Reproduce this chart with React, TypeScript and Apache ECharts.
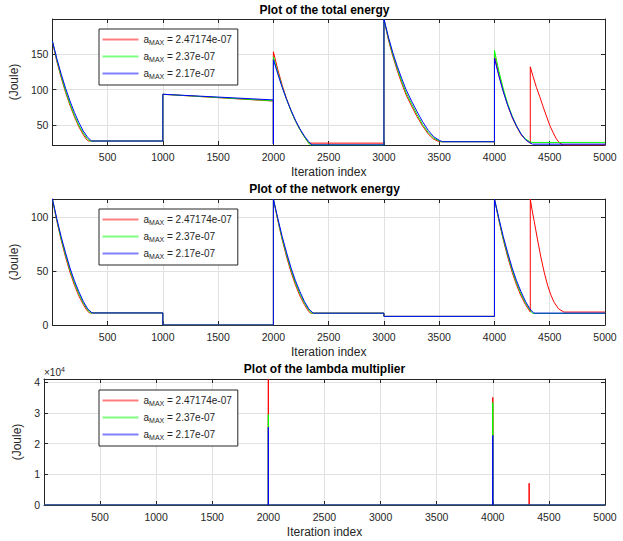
import React, { useEffect, useRef } from 'react';
import * as echarts from 'echarts';

const FONT = '"Liberation Sans", Arial, Helvetica, sans-serif';
const AXIS = '#262626';
const GRIDC = '#e2e2e2';

const titles = ['Plot of the total energy', 'Plot of the network energy', 'Plot of the lambda multiplier'];
const aMaxValues = ['2.47174e-07', '2.37e-07', '2.17e-07'];
const seriesColors = ['#ff0000', '#00ff00', '#0000ff'];
const xLabel = 'Iteration index';
const yLabel = '(Joule)';
const xTicks = [500, 1000, 1500, 2000, 2500, 3000, 3500, 4000, 4500, 5000];
const yTicksTotal = [50, 100, 150];
const yTicksNetwork = [0, 50, 100];
const yTicksLambda = [0, 10000, 20000, 30000, 40000];

type P = [number, number];

// Plot 1: total energy
const totalRed: P[] = [
  [1, 168], [40, 140], [80, 117], [120, 96], [160, 78], [200, 62], [240, 48], [280, 37], [310, 30], [328, 28],
  [1000, 28], [1000, 93.5], [2000, 84], [2000, 24], [2000, 153], [2040, 128], [2080, 106], [2120, 87], [2160, 70],
  [2200, 56], [2240, 44], [2280, 34], [2305, 28], [2320, 25], [3000, 25], [3000, 199], [3040, 170], [3080, 147],
  [3120, 127], [3160, 109], [3200, 93], [3250, 77], [3300, 62], [3350, 49], [3400, 38], [3450, 30.5], [3500, 27],
  [4000, 27], [4000, 148], [4040, 121], [4080, 98], [4120, 78], [4160, 61], [4200, 48], [4240, 37], [4280, 30],
  [4324, 25], [4324, 132], [4350, 118], [4380, 103], [4410, 90], [4440, 76], [4470, 63], [4500, 50], [4530, 40],
  [4560, 31], [4590, 25], [4620, 22.4], [5000, 22.4],
];
const totalGreen: P[] = [
  [1, 168], [40, 142], [80, 119], [120, 98], [160, 80], [200, 64], [240, 50], [280, 39], [320, 30.5], [340, 28],
  [1000, 28], [1000, 93.5], [2000, 84.4], [2000, 24], [2000, 146], [2040, 124], [2080, 104], [2120, 86], [2160, 70],
  [2200, 56], [2240, 44], [2280, 34], [2310, 27], [2335, 22.5], [3000, 22.5], [3000, 199], [3040, 172], [3080, 149],
  [3120, 130], [3160, 112], [3200, 96], [3250, 80], [3300, 65], [3350, 51], [3400, 40], [3450, 32], [3515, 27],
  [4000, 27], [4000, 155], [4040, 126], [4080, 101], [4120, 80], [4160, 63], [4200, 49], [4240, 38], [4280, 31],
  [4320, 27], [4340, 26], [5000, 26],
];
const totalBlue: P[] = [
  [1, 168], [40, 144], [80, 122], [120, 102], [160, 84], [200, 68], [240, 54], [280, 42], [320, 33], [355, 28],
  [1000, 28], [1000, 93.5], [2000, 85.6], [2000, 24], [2000, 142], [2040, 122], [2080, 103], [2120, 86], [2160, 71],
  [2200, 57], [2240, 45], [2280, 35], [2320, 27], [2350, 22.5], [3000, 22.5], [3000, 199], [3040, 174], [3080, 152],
  [3120, 133], [3160, 116], [3200, 100], [3250, 84], [3300, 69], [3350, 55], [3400, 43], [3450, 34], [3500, 29],
  [3530, 27], [4000, 27], [4000, 144], [4040, 119], [4080, 97], [4120, 78], [4160, 62], [4200, 49], [4240, 38],
  [4280, 30], [4320, 25.5], [4345, 23.6], [5000, 23.6],
];

// Plot 2: network energy
const networkRed: P[] = [
  [1, 117], [40, 97], [80, 79], [120, 63], [160, 49], [200, 37], [240, 27], [280, 19], [310, 14], [335, 11.2],
  [1000, 11.2], [1000, 0], [2000, 0], [2000, 117], [2040, 97], [2080, 79], [2120, 63], [2160, 49], [2200, 37],
  [2240, 27], [2280, 19], [2310, 14], [2335, 11], [3000, 11], [3000, 8], [4000, 8], [4000, 117], [4040, 97],
  [4080, 79], [4120, 63], [4160, 49], [4200, 37], [4240, 27], [4280, 19], [4324, 12], [4324, 117], [4340, 107],
  [4360, 96], [4390, 79], [4420, 63], [4450, 49], [4480, 37], [4510, 28], [4540, 21], [4580, 15], [4628, 12],
  [5000, 12],
];
const networkGreen: P[] = [
  [1, 117], [40, 98], [80, 80], [120, 65], [160, 51], [200, 39], [240, 29], [280, 20.5], [320, 14], [345, 11.2],
  [1000, 11.2], [1000, 0], [2000, 0], [2000, 117], [2040, 98], [2080, 80], [2120, 65], [2160, 51], [2200, 39],
  [2240, 29], [2280, 20.5], [2320, 14], [2345, 11], [3000, 11], [3000, 8], [4000, 8], [4000, 117], [4040, 98],
  [4080, 80], [4120, 65], [4160, 51], [4200, 39], [4240, 29], [4280, 20.5], [4320, 14], [4345, 10.8], [5000, 10.8],
];
const networkBlue: P[] = [
  [1, 117], [40, 99], [80, 82], [120, 67], [160, 53], [200, 41], [240, 31], [280, 22], [320, 15], [360, 11.2],
  [1000, 11.2], [1000, 0], [2000, 0], [2000, 117], [2040, 99], [2080, 82], [2120, 67], [2160, 53], [2200, 41],
  [2240, 31], [2280, 22], [2320, 15], [2360, 11], [3000, 11], [3000, 8], [4000, 8], [4000, 117], [4040, 99],
  [4080, 82], [4120, 67], [4160, 53], [4200, 41], [4240, 31], [4280, 22], [4320, 15], [4355, 11], [5000, 11],
];

// Plot 3: lambda multiplier
const lambdaRed: P[] = [
  [1, 0], [2000, 0], [2000, 41100], [2000, 0], [4000, 0], [4000, 35100], [4000, 0], [4324, 0], [4324, 7100],
  [4324, 0], [5000, 0],
];
const lambdaGreen: P[] = [
  [1, 0], [2000, 0], [2000, 29500], [2000, 0], [4000, 0], [4000, 33400], [4000, 0], [5000, 0],
];
const lambdaBlue: P[] = [
  [1, 0], [2000, 0], [2000, 25400], [2000, 0], [4000, 0], [4000, 22700], [4000, 0], [5000, 0],
];

const panelData: P[][][] = [
  [totalRed, totalGreen, totalBlue],
  [networkRed, networkGreen, networkBlue],
  [lambdaRed, lambdaGreen, lambdaBlue],
];
const yTicks = [yTicksTotal, yTicksNetwork, yTicksLambda];
const yMin = [22.4, 0, 0];
const yMax = [199, 117, 41100];

const gridTops = [19, 199, 379];
const gridHeight = 126;
const gridLeft = 44;
const gridWidth = 561;
const titleTops = [3.5, 182.5, 362.5];
const legendTops = [29, 209, 390];
const yNameGaps = [26, 26, 13];

export default function App() {
  const ref = useRef<HTMLDivElement>(null);
  useEffect(() => {
    document.body.style.margin = '0';
    if (!ref.current) return;
    const chart = echarts.init(ref.current, null, { renderer: 'svg' });
    const names = aMaxValues.map((v) => `a_MAX = ${v}`);
    const grid: any[] = [];
    const xAxis: any[] = [];
    const yAxis: any[] = [];
    const series: any[] = [];
    const title: any[] = [];
    const legend: any[] = [];
    const tickStyle = { color: AXIS, width: 1 };
    for (let i = 0; i < 3; i++) {
      grid.push({ left: gridLeft, top: gridTops[i], width: gridWidth, height: gridHeight, containLabel: false });
      title.push({
        text: titles[i], left: gridLeft + gridWidth / 2, top: titleTops[i], textAlign: 'center', padding: 0,
        textStyle: { fontFamily: FONT, fontSize: 12, fontWeight: 'bold', color: '#000' },
      });
      xAxis.push({
        type: 'value', gridIndex: i, min: 1, max: 5000, position: 'bottom',
        axisLine: { show: true, onZero: false, lineStyle: tickStyle },
        axisTick: { show: true, inside: true, length: 4, customValues: xTicks, lineStyle: tickStyle },
        axisLabel: {
          show: true, customValues: xTicks, color: AXIS, fontSize: 10.5, fontFamily: FONT, margin: 6,
          formatter: (v: number) => String(v),
        },
        splitLine: { show: true, lineStyle: { color: GRIDC, width: 1 } },
        name: xLabel, nameLocation: 'middle', nameGap: 21,
        nameTextStyle: { fontFamily: FONT, fontSize: 12, color: AXIS },
      });
      xAxis.push({
        type: 'value', gridIndex: i, min: 1, max: 5000, position: 'top',
        axisLine: { show: true, onZero: false, lineStyle: tickStyle },
        axisTick: { show: true, inside: true, length: 4, customValues: xTicks, lineStyle: tickStyle },
        axisLabel: { show: false }, splitLine: { show: false },
      });
      yAxis.push({
        type: 'value', gridIndex: i, min: yMin[i], max: yMax[i], position: 'left',
        axisLine: { show: true, onZero: false, lineStyle: tickStyle },
        axisTick: { show: true, inside: true, length: 4, customValues: yTicks[i], lineStyle: tickStyle },
        axisLabel: {
          show: true, customValues: yTicks[i], color: AXIS, fontSize: 10.5, fontFamily: FONT, margin: 4,
          formatter: i === 2 ? (v: number) => String(v / 10000) : (v: number) => String(v),
        },
        splitLine: { show: true, lineStyle: { color: GRIDC, width: 1 } },
        name: yLabel, nameLocation: 'middle', nameGap: yNameGaps[i], nameRotate: 90,
        nameTextStyle: { fontFamily: FONT, fontSize: 12, color: AXIS },
      });
      yAxis.push({
        type: 'value', gridIndex: i, min: yMin[i], max: yMax[i], position: 'right',
        axisLine: { show: true, onZero: false, lineStyle: tickStyle },
        axisTick: { show: true, inside: true, length: 4, customValues: yTicks[i], lineStyle: tickStyle },
        axisLabel: { show: false }, splitLine: { show: false },
      });
      for (let s = 0; s < 3; s++) {
        series.push({
          type: 'line', name: names[s], xAxisIndex: 2 * i, yAxisIndex: 2 * i,
          data: panelData[i][s], showSymbol: false, symbol: 'none',
          lineStyle: { color: seriesColors[s], width: 1 }, itemStyle: { color: seriesColors[s] },
          emphasis: { disabled: true }, silent: true,
        });
      }
      legend.push({
        orient: 'vertical', left: 99, top: legendTops[i], itemWidth: 36, itemHeight: 12, itemGap: 5.5,
        padding: [5.5, 6, 5, 3.5], borderColor: AXIS, borderWidth: 1, backgroundColor: '#ffffff',
        icon: 'path://M0 0H36V2H0Z', selectedMode: false, data: names,
        formatter: (name: string) => `{a|a}{s|MAX}{a| = ${name.split('= ')[1]}}`,
        itemStyle: { opacity: 0.5 },
        textStyle: {
          fontFamily: FONT, fontSize: 10, color: AXIS,
          rich: {
            a: { fontFamily: FONT, fontSize: 10, color: AXIS },
            s: { fontFamily: FONT, fontSize: 7, color: AXIS, padding: [6, 0, 0, 0] },
          },
        },
      });
    }
    chart.setOption({
      animation: false,
      backgroundColor: '#ffffff',
      title, grid, xAxis, yAxis, series, legend,
      graphic: [
        {
          type: 'text', left: 44, top: 366,
          style: {
            text: '{a|×10}{b|4}',
            rich: {
              a: { fontFamily: FONT, fontSize: 10, fill: AXIS, color: AXIS },
              b: { fontFamily: FONT, fontSize: 7, fill: AXIS, color: AXIS, padding: [0, 0, 6, 0] },
            },
          },
        },
      ],
    });
    return () => chart.dispose();
  }, []);
  return <div ref={ref} style={{ width: 623, height: 541 }} />;
}
